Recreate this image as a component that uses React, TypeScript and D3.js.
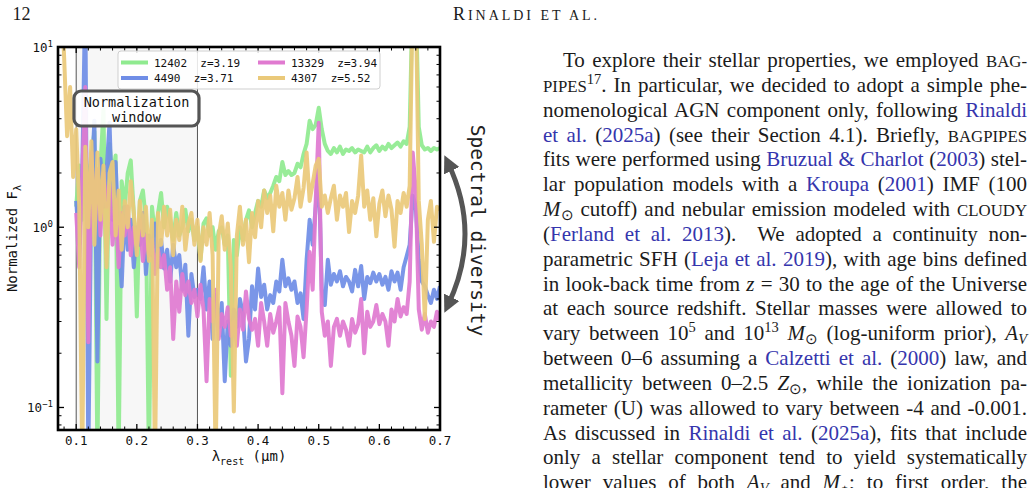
import React, { useLayoutEffect, useRef } from 'react';
import * as d3 from 'd3';

// ---------------- DATA ----------------
const WAVE_UM = [
  0.075, 0.080, 0.085, 0.090, 0.095,
  0.100, 0.105, 0.110, 0.115, 0.120, 0.125, 0.130, 0.135, 0.140, 0.145,
  0.150, 0.155, 0.160, 0.165, 0.170, 0.175, 0.180, 0.185, 0.190, 0.195,
  0.200, 0.205, 0.210, 0.215, 0.220, 0.225, 0.230, 0.235, 0.240, 0.245,
  0.250, 0.255, 0.260, 0.265, 0.270, 0.275, 0.280, 0.285, 0.290, 0.295,
  0.300, 0.305, 0.310, 0.315, 0.320, 0.325, 0.330, 0.335, 0.340, 0.345,
  0.350, 0.355, 0.360, 0.365, 0.370, 0.375, 0.380, 0.385, 0.390, 0.395,
  0.400, 0.405, 0.410, 0.415, 0.420, 0.425, 0.430, 0.435, 0.440, 0.445,
  0.450, 0.455, 0.460, 0.465, 0.470, 0.475, 0.480, 0.485, 0.490, 0.495,
  0.500, 0.505, 0.510, 0.515, 0.520, 0.525, 0.530, 0.535, 0.540, 0.545,
  0.550, 0.555, 0.560, 0.565, 0.570, 0.575, 0.580, 0.585, 0.590, 0.595,
  0.600, 0.605, 0.610, 0.615, 0.620, 0.625, 0.630, 0.635, 0.640, 0.645,
  0.650, 0.655, 0.660, 0.665, 0.670, 0.675, 0.680, 0.685, 0.690, 0.695,
  0.700,
];

const FLUX_12402 = [
  null, null, null, null, null,
  1.3, 2.2, 1.1, 2.8, 1.6, 2.4, 3.4, 0.05, 2.2, 4.5,
  0.31, 2.9, 1.9, 2.5, 0.05, 1.8, 1.3, 2.0, 2.35, 1.2,
  0.32, 1.4, 1.6, 1.1, 0.05, 1.3, 0.9, 1.2, 1.55, 1.0,
  1.3, 1.1, 0.85, 1.2, 0.9, 1.0, 1.25, 0.95, 1.1, 0.85,
  1.0, 0.66, 1.05, 1.12, 0.9, 1.0, 0.75, 0.95, 1.0, 0.8,
  0.9, 0.15, 0.85, 0.7, 1.0, 0.85, 1.1, 1.24, 1.0, 1.2,
  1.4, 1.3, 1.6, 1.45, 1.55, 1.7, 1.9, 1.8, 2.3, 1.95,
  2.05, 1.95, 2.0, 2.25, 2.15, 2.55, 2.9, 3.9, 3.5, 3.7,
  4.6, 3.5, 2.9, 2.65, 2.55, 2.75, 2.6, 2.8, 2.55, 2.7,
  2.65, 2.75, 2.6, 2.7, 2.65, 2.6, 2.8, 2.6, 2.75, 2.85,
  2.65, 2.8, 2.7, 2.9, 2.75, 2.85, 2.95, 2.8, 3.0, 2.9,
  3.6, 20, 20, 3.6, 2.85, 2.7, 2.75, 2.65, 2.75, 2.7,
  2.75,
];

const FLUX_4490 = [
  null, null, null, null, null,
  1.4, 0.8, 2.0, 20, 0.05, 1.7, 3.9, 0.18, 2.4, 1.3,
  2.0, 3.8, 1.1, 2.3, 0.9, 0.47, 1.3, 0.75, 1.1, 0.6,
  1.0, 0.8, 1.2, 0.55, 0.9, 0.7, 1.05, 0.6, 0.85, 0.59,
  0.75, 0.5, 0.8, 0.6, 0.7, 0.45, 0.62, 0.25, 0.55, 0.41,
  0.45, 0.4, 0.6, 0.35, 0.5, 0.24, 0.42, 0.28, 0.38, 0.14,
  0.3, 0.22, 0.35, 0.28, 0.4, 0.33, 0.18, 0.24, 0.47, 0.35,
  0.59, 0.41, 0.48, 0.35, 0.42, 0.38, 0.5, 0.44, 0.66, 0.47,
  0.52, 0.45, 0.5, 0.38, 0.43, 0.31, 0.66, 1.1, 0.8, 1.3,
  2.2, 0.45, 0.37, 0.66, 0.48, 0.55, 0.5, 0.57, 0.47, 0.53,
  0.5, 0.44, 0.58, 0.47, 0.61, 0.4, 0.53, 0.49, 0.56, 0.5,
  0.55, 0.48, 0.53, 0.45, 0.57, 0.5, 0.56, 0.45, 0.6, 0.69,
  0.8, 1.5, 1.3, 0.66, 0.5, 0.47, 0.42, 0.38, 0.45, 0.4,
  0.47,
];

const FLUX_13329 = [
  null, null, null, null, null,
  1.2, 0.6, 2.0, 6.0, 0.23, 2.6, 1.1, 2.1, 0.9, 2.0,
  1.3, 1.7, 0.8, 1.4, 0.6, 1.2, 0.9, 1.3, 0.7, 1.0,
  0.8, 1.1, 0.65, 0.9, 0.7, 0.85, 0.55, 0.75, 0.6, 0.7,
  0.45, 0.6, 0.24, 0.5, 0.34, 0.55, 0.42, 0.5, 0.38, 0.45,
  0.32, 0.48, 0.35, 0.14, 0.4, 0.3, 0.45, 0.24, 0.33, 0.28,
  0.36, 0.25, 0.3, 0.22, 0.35, 0.27, 0.44, 0.31, 0.27, 0.31,
  0.22, 0.38, 0.3, 0.22, 0.33, 0.26, 0.3, 0.36, 0.12, 0.38,
  0.3, 0.25, 0.17, 0.32, 0.28, 0.19, 0.35, 0.73, 0.45, 1.4,
  3.8, 0.34, 0.25, 0.3, 0.17, 0.28, 0.31, 0.25, 0.3, 0.27,
  0.22, 0.31, 0.26, 0.29, 0.4, 0.2, 0.34, 0.28, 0.3, 0.37,
  0.29, 0.33, 0.3, 0.22, 0.35, 0.3, 0.4, 0.32, 0.36, 0.33,
  0.5, 2.6, 1.6, 0.35, 0.27, 0.33, 0.26, 0.3, 0.28, 0.34,
  0.3,
];

const FLUX_4307 = [
  20, 9, 3.2, 6, 1.9,
  3.5, 1.3, 0.05, 2.8, 1.0, 3.0, 0.8, 2.6, 1.1, 2.2,
  0.6, 2.0, 2.3, 0.9, 1.6, 0.75, 1.4, 1.0, 1.8, 1.2,
  0.7, 1.4, 0.9, 1.3, 0.65, 1.1, 0.05, 1.2, 0.8, 1.3,
  0.9, 1.25, 0.7, 1.1, 0.85, 1.3, 0.75, 1.05, 1.2, 0.8,
  1.1, 0.65, 1.0, 0.8, 1.2, 0.7, 0.05, 0.9, 1.15, 0.75,
  1.05, 0.6, 0.095, 0.9, 1.3, 0.8, 1.1, 0.64, 1.2, 0.88,
  1.4, 1.0, 1.6, 1.2, 1.5, 0.95, 1.7, 1.3, 1.55, 1.1,
  1.6, 1.25, 1.45, 1.9, 1.3, 1.65, 2.6, 1.4, 1.75, 2.2,
  2.4, 1.3, 1.5, 1.2, 1.45, 1.7, 1.1, 1.5, 1.3, 1.55,
  0.94, 1.4, 1.2, 1.5, 2.5, 1.3, 1.6, 1.1, 1.45, 0.89,
  1.35, 1.6, 1.15, 1.5, 1.25, 0.78, 1.4, 1.2, 1.55, 1.3,
  1.7, 20, 20, 1.4, 0.8, 0.31, 1.1, 1.4, 0.83, 1.3,
  1.25,
];

const SERIES_IDS = ['12402', '4490', '13329', '4307'];
const SERIES_Z = ['3.19', '3.71', '3.94', '5.52'];
const SERIES_FLUX = [FLUX_12402, FLUX_4490, FLUX_13329, FLUX_4307];
const SERIES_COLORS = ['#8fea8f', '#6f8de6', '#e07ad0', '#eac97a'];

const X_TICKS = [0.1, 0.2, 0.3, 0.4, 0.5, 0.6, 0.7];
const X_TICK_LABELS = ['0.1', '0.2', '0.3', '0.4', '0.5', '0.6', '0.7'];
const Y_TICKS = [0.1, 1, 10];
const Y_TICK_EXPONENTS = ['\u22121', '0', '1'];
const NORM_WINDOW = [0.1, 0.3];

type Seg = [string, string];
const BODY_LINES: Seg[][] = [
  [['n', 'To explore their stellar properties, we employed '], ['s', 'bag-']],
  [['s', 'pipes'], ['sup', '17'], ['n', '. In particular, we decided to adopt a simple phe-']],
  [['n', 'nomenological AGN component only, following '], ['l', 'Rinaldi']],
  [['l', 'et al.'], ['n', ' ('], ['l', '2025a'], ['n', ') (see their Section 4.1). Briefly, '], ['s', 'bagpipes']],
  [['n', 'fits were performed using '], ['l', 'Bruzual & Charlot'], ['n', ' ('], ['l', '2003'], ['n', ') stel-']],
  [['n', 'lar population models with a '], ['l', 'Kroupa'], ['n', ' ('], ['l', '2001'], ['n', ') IMF (100']],
  [['i', 'M'], ['sub', '\u2299'], ['n', ' cutoff) and nebular emission modeled with '], ['s', 'cloudy']],
  [['n', '('], ['l', 'Ferland et al. 2013'], ['n', ').  We adopted a continuity non-']],
  [['n', 'parametric SFH ('], ['l', 'Leja et al. 2019'], ['n', '), with age bins defined']],
  [['n', 'in look-back time from '], ['i', 'z'], ['n', ' = 30 to the age of the Universe']],
  [['n', 'at each source redshift. Stellar masses were allowed to']],
  [['n', 'vary between 10'], ['sup', '5'], ['n', ' and 10'], ['sup', '13'], ['n', ' '], ['i', 'M'], ['sub', '\u2299'], ['n', ' (log-uniform prior), '], ['i', 'A'], ['isub', 'V']],
  [['n', 'between 0\u20136 assuming a '], ['l', 'Calzetti et al.'], ['n', ' ('], ['l', '2000'], ['n', ') law, and']],
  [['n', 'metallicity between 0\u20132.5 '], ['i', 'Z'], ['sub', '\u2299'], ['n', ', while the ionization pa-']],
  [['n', 'rameter (U) was allowed to vary between -4 and -0.001.']],
  [['n', 'As discussed in '], ['l', 'Rinaldi et al.'], ['n', ' ('], ['l', '2025a'], ['n', '), fits that include']],
  [['n', 'only a stellar component tend to yield systematically']],
  [['n', 'lower values of both '], ['i', 'A'], ['isub', 'V'], ['n', ' and '], ['i', 'M'], ['sub', '\u22c6'], ['n', '; to first order, the']],
];

// ---------------- LAYOUT ----------------
const PLOT = { left: 58, right: 440, top: 47, bottom: 430 };
const MONO = "'DejaVu Sans Mono', monospace";
const SERIF = "'Liberation Serif', 'Times New Roman', serif";
const LINK = '#3535ad';
const INK = '#1b1b1b';
const COL_LEFT = 543;
const COL_RIGHT = 1027;
const INDENT = 20;
const BASE0 = 67;
const LEAD = 24.84;
const FS = 21;

function renderSegs(segs: Seg[]) {
  let shift = 0;
  return segs.map(([kind, txt], k) => {
    let target = 0;
    const props: any = {};
    if (kind === 'l') props.fill = LINK;
    if (kind === 's') { props.fontSize = FS * 0.8; txt = txt.toUpperCase(); }
    if (kind === 'i') props.fontStyle = 'italic';
    if (kind === 'sup') { props.fontSize = 14.5; target = -8; }
    if (kind === 'sub') { props.fontSize = 14.5; target = 4; }
    if (kind === 'isub') { props.fontSize = 14.5; target = 4; props.fontStyle = 'italic'; }
    const dy = target - shift;
    shift = target;
    return (
      <tspan key={k} dy={dy !== 0 ? dy : undefined} {...props}>{txt}</tspan>
    );
  }).concat(shift !== 0 ? [<tspan key="reset" dy={-shift}>{''}</tspan>] : []);
}

export default function App() {
  const lineRefs = useRef<(SVGTextElement | null)[]>([]);

  useLayoutEffect(() => {
    lineRefs.current.forEach((el, i) => {
      if (!el) return;
      el.style.wordSpacing = '0px';
      const natural = el.getComputedTextLength();
      const start = i === 0 ? COL_LEFT + INDENT : COL_LEFT;
      const target = COL_RIGHT - start;
      const spaces = (el.textContent || '').split(' ').length - 1;
      if (spaces > 0) el.style.wordSpacing = `${(target - natural) / spaces}px`;
    });
  }, []);

  const x = d3.scaleLinear().domain([0.07, 0.7]).range([PLOT.left, PLOT.right]);
  const y = d3.scaleLog().domain([0.075, 10]).range([PLOT.bottom, PLOT.top]);

  const lineGen = d3
    .line<number | null>()
    .defined((d) => d != null)
    .x((_, i) => x(WAVE_UM[i]))
    .y((d) => y(d as number));

  const xMinor: number[] = [];
  for (let k = 4; k <= 34; k++) if (k % 5 !== 0) xMinor.push(k * 0.02);
  const yMinor: number[] = [];
  [0.01, 0.1, 1].forEach((dec) => {
    for (let m = 2; m <= 9; m++) {
      const v = m * dec;
      if (v >= 0.075 && v <= 10) yMinor.push(v);
    }
  });

  const majorLen = 6;
  const minorLen = 3.5;

  return (
    <svg
      width={1033}
      height={488}
      style={{ position: 'fixed', left: 0, top: 0, background: '#fff' }}
    >
      <defs>
        <clipPath id="plotClip">
          <rect x={PLOT.left} y={PLOT.top} width={PLOT.right - PLOT.left} height={PLOT.bottom - PLOT.top} />
        </clipPath>
        <marker id="arrowHead" viewBox="0 0 10 10" refX="5" refY="5" markerWidth="3.4" markerHeight="3.4" orient="auto-start-reverse">
          <path d="M0,0 L10,5 L0,10 z" fill="#555" />
        </marker>
      </defs>

      {/* Header */}
      <text x={12.5} y={20} fontFamily={SERIF} fontSize={18} fill={INK}>12</text>
      <text x={453} y={19.5} fontFamily={SERIF} fill={INK} textLength={144} lengthAdjust="spacing">
        <tspan fontSize={18}>R</tspan>
        <tspan fontSize={14}>INALDI ET AL.</tspan>
      </text>

      {/* Normalization window shading */}
      <rect
        x={x(NORM_WINDOW[0])}
        y={PLOT.top}
        width={x(NORM_WINDOW[1]) - x(NORM_WINDOW[0])}
        height={PLOT.bottom - PLOT.top}
        fill="#f7f7f7"
      />
      {NORM_WINDOW.map((w) => (
        <line key={w} x1={x(w)} x2={x(w)} y1={PLOT.top} y2={PLOT.bottom} stroke="#555" strokeWidth={1} />
      ))}

      {/* Spectra */}
      <g clipPath="url(#plotClip)">
        {SERIES_FLUX.map((vals, i) => (
          <path
            key={SERIES_IDS[i]}
            d={lineGen(vals) || ''}
            fill="none"
            stroke={SERIES_COLORS[i]}
            strokeWidth={4}
            strokeLinejoin="round"
            opacity={0.92}
          />
        ))}
      </g>

      {/* Ticks */}
      <g stroke="#000">
        {X_TICKS.map((t) => (
          <g key={'xm' + t}>
            <line x1={x(t)} x2={x(t)} y1={PLOT.bottom} y2={PLOT.bottom - majorLen} strokeWidth={1.3} />
            <line x1={x(t)} x2={x(t)} y1={PLOT.top} y2={PLOT.top + majorLen} strokeWidth={1.3} />
          </g>
        ))}
        {xMinor.map((t) => (
          <g key={'xn' + t}>
            <line x1={x(t)} x2={x(t)} y1={PLOT.bottom} y2={PLOT.bottom - minorLen} strokeWidth={1} />
            <line x1={x(t)} x2={x(t)} y1={PLOT.top} y2={PLOT.top + minorLen} strokeWidth={1} />
          </g>
        ))}
        {Y_TICKS.map((t) => (
          <g key={'ym' + t}>
            <line y1={y(t)} y2={y(t)} x1={PLOT.left} x2={PLOT.left + majorLen} strokeWidth={1.3} />
            <line y1={y(t)} y2={y(t)} x1={PLOT.right} x2={PLOT.right - majorLen} strokeWidth={1.3} />
          </g>
        ))}
        {yMinor.map((t) => (
          <g key={'yn' + t}>
            <line y1={y(t)} y2={y(t)} x1={PLOT.left} x2={PLOT.left + minorLen} strokeWidth={1} />
            <line y1={y(t)} y2={y(t)} x1={PLOT.right} x2={PLOT.right - minorLen} strokeWidth={1} />
          </g>
        ))}
      </g>

      {/* Spines */}
      <rect
        x={PLOT.left}
        y={PLOT.top}
        width={PLOT.right - PLOT.left}
        height={PLOT.bottom - PLOT.top}
        fill="none"
        stroke="#000"
        strokeWidth={2.6}
      />

      {/* Tick labels */}
      {X_TICKS.map((t, i) => (
        <text key={'xl' + t} x={x(t)} y={445} textAnchor="middle" fontFamily={MONO} fontSize={12.5} fill="#111">
          {X_TICK_LABELS[i]}
        </text>
      ))}
      {Y_TICKS.map((t, i) => (
        <text key={'yl' + t} x={53} y={y(t) + 4.5} textAnchor="end" fontFamily={MONO} fontSize={12.5} fill="#111">
          10<tspan dy={-5} fontSize={9}>{Y_TICK_EXPONENTS[i]}</tspan>
        </text>
      ))}

      {/* Axis labels */}
      <text x={249} y={461} textAnchor="middle" fontFamily={MONO} fontSize={14} fill="#111">
        λ<tspan dy={3.5} fontSize={10}>rest</tspan>
        <tspan dy={-3.5}> (μm)</tspan>
      </text>
      <text
        transform={`translate(17,${(PLOT.top + PLOT.bottom) / 2}) rotate(-90)`}
        textAnchor="middle"
        fontFamily={MONO}
        fontSize={14}
        fill="#111"
      >
        Normalized F<tspan dy={3.5} fontSize={10}>λ</tspan>
      </text>

      {/* Legend */}
      <rect x={118} y={51} width={262} height={38} rx={3} fill="#fff" fillOpacity={0.85} stroke="#cfcfcf" strokeWidth={1} />
      {SERIES_IDS.map((id, i) => {
        const col = Math.floor(i / 2);
        const row = i % 2;
        const lx = col === 0 ? 121 : 258;
        const ly = row === 0 ? 62.5 : 78;
        return (
          <g key={'lg' + id}>
            <line x1={lx} x2={lx + 27} y1={ly} y2={ly} stroke={SERIES_COLORS[i]} strokeWidth={4} />
            <text x={lx + 33} y={ly + 4} fontFamily={MONO} fontSize={11} fill="#111" style={{ whiteSpace: 'pre' }}>
              {`${id}${id.length === 5 ? '  ' : '  '}z=${SERIES_Z[i]}`}
            </text>
          </g>
        );
      })}

      {/* Normalization window annotation */}
      <rect x={74} y={91} width={125} height={35} rx={7} fill="#fff" fillOpacity={0.92} stroke="#555" strokeWidth={3.2} />
      <text x={136.5} y={107} textAnchor="middle" fontFamily={MONO} fontSize={13.5} fill="#111">Normalization</text>
      <text x={136.5} y={121.5} textAnchor="middle" fontFamily={MONO} fontSize={13.5} fill="#111">window</text>

      {/* Spectral diversity arrow */}
      <path
        d="M 448,163 Q 482,234 448,305"
        fill="none"
        stroke="#555"
        strokeWidth={5}
        markerStart="url(#arrowHead)"
        markerEnd="url(#arrowHead)"
      />
      <text
        transform="translate(477,230.5) rotate(90)"
        textAnchor="middle"
        dominantBaseline="central"
        fontFamily={MONO}
        fontSize={19.5}
        fill="#222"
      >
        Spectral diversity
      </text>

      {/* Body text */}
      {BODY_LINES.map((segs, i) => (
        <text
          key={'bl' + i}
          ref={(el) => { lineRefs.current[i] = el; }}
          x={i === 0 ? COL_LEFT + INDENT : COL_LEFT}
          y={BASE0 + i * LEAD}
          fontFamily={SERIF}
          fontSize={FS}
          fill={INK}
          style={{ whiteSpace: 'pre' }}
        >
          {renderSegs(segs)}
        </text>
      ))}
    </svg>
  );
}
